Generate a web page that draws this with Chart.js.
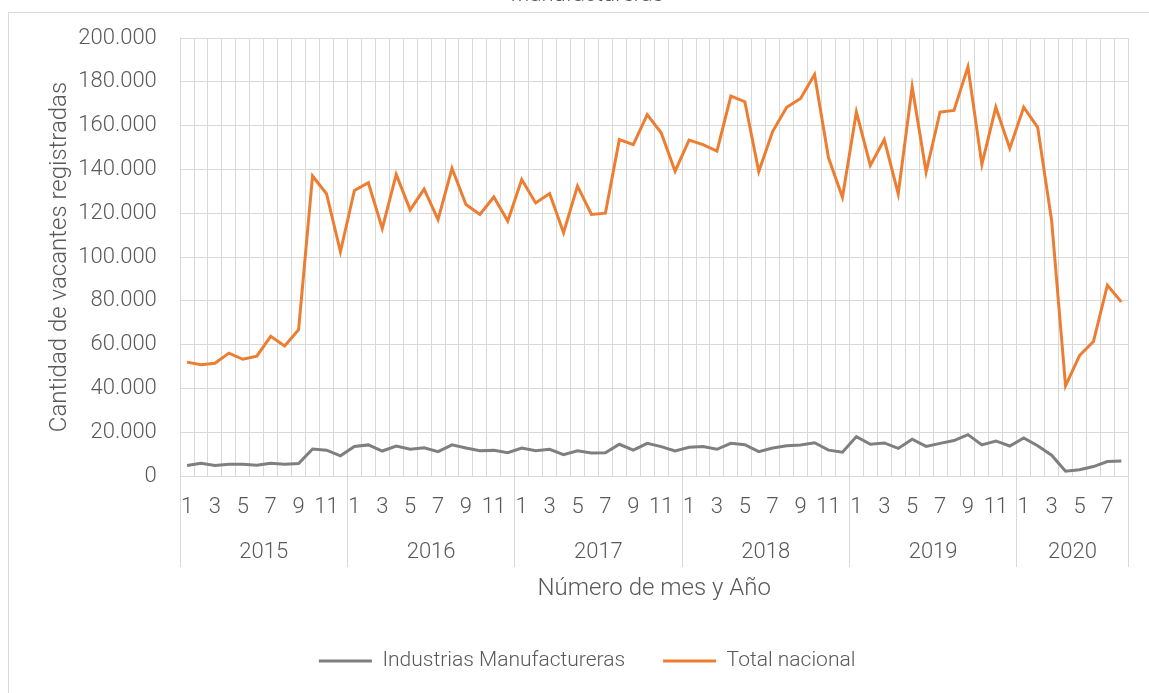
<!DOCTYPE html>
<html lang="es">
<head>
<meta charset="utf-8">
<script src="https://cdn.jsdelivr.net/npm/chart.js@4.4.1/dist/chart.umd.min.js"></script>
<style>
  html, body { margin: 0; padding: 0; background: #fff; overflow: hidden; }
  body { width: 1149px; height: 693px; position: relative; }
  #marco { position: absolute; left: 8px; top: 12px; width: 1300px; height: 900px; border: 1px solid #d9d9d9; }
  #grafico { position: absolute; left: 0; top: -20px; }
</style>
</head>
<body>
<div id="marco"></div>
<canvas id="grafico" width="1149" height="713"></canvas>
<script>
// Datos: vacantes registradas por mes (2015 - ago 2020)
const anios = ["2015", "2016", "2017", "2018", "2019", "2020"];
const mesesPorAnio = [12, 12, 12, 12, 12, 8];

const meses = [
  "1","2","3","4","5","6","7","8","9","10","11","12",
  "1","2","3","4","5","6","7","8","9","10","11","12",
  "1","2","3","4","5","6","7","8","9","10","11","12",
  "1","2","3","4","5","6","7","8","9","10","11","12",
  "1","2","3","4","5","6","7","8","9","10","11","12",
  "1","2","3","4","5","6","7","8"
];

const industrias = [
  4800, 5800, 4800, 5400, 5400, 4900, 5800, 5400, 5700, 12300, 11800, 9200,
  13500, 14200, 11400, 13700, 12200, 12900, 11100, 14200, 12800, 11500, 11700, 10600,
  12800, 11500, 12200, 9700, 11500, 10500, 10600, 14500, 11800, 14900, 13400, 11400,
  13100, 13500, 12200, 14900, 14300, 11100, 12800, 13800, 14200, 15200, 11800, 10900,
  18000, 14500, 15100, 12600, 16800, 13500, 14900, 16200, 18900, 14200, 16000, 13700,
  17400, 13800, 9500, 2200, 2900, 4300, 6600, 6900
];

const totalNacional = [
  52000, 50800, 51500, 56100, 53300, 54700, 63800, 59400, 66800, 137000, 128900, 102400,
  130400, 133900, 113000, 137700, 121500, 131000, 117100, 140500, 124000, 119400, 127400, 116400,
  135400, 124700, 129000, 111100, 132400, 119400, 120000, 153600, 151300, 165000, 156700, 139200,
  153400, 151300, 148300, 173500, 170900, 139000, 157400, 168400, 172400, 183300, 145300, 127300,
  166200, 141800, 153600, 128800, 177700, 138800, 166200, 166900, 186800, 142300, 168400, 149600,
  168400, 159200, 116700, 41200, 55000, 61400, 87100, 79500
];

const ejeYMin = 0;
const ejeYMax = 200000;
const ejeYPaso = 20000;

// limites y centros de cada año sobre el eje de categorias
const limites = [0];
mesesPorAnio.forEach((n) => limites.push(limites[limites.length - 1] + n));
const centros = anios.map((a, i) => (limites[i] + limites[i + 1]) / 2);

const gris = "#d9d9d9";
const texto = "#595959";

function miles(v) {
  return String(v).replace(/\B(?=(\d{3})+(?!\d))/g, ".");
}

Chart.defaults.font.family = "Roboto";
Chart.defaults.font.weight = "300";
Chart.defaults.color = texto;

const ctx = document.getElementById("grafico").getContext("2d");
new Chart(ctx, {
  type: "line",
  data: {
    labels: meses,
    datasets: [
      {
        label: "Industrias Manufactureras",
        data: industrias,
        borderColor: "#7f7f7f",
        backgroundColor: "#7f7f7f",
        borderWidth: 3,
        pointRadius: 0,
        tension: 0,
      },
      {
        label: "Total nacional",
        data: totalNacional,
        borderColor: "#ed7d31",
        backgroundColor: "#ed7d31",
        borderWidth: 3,
        pointRadius: 0,
        tension: 0,
      },
    ],
  },
  options: {
    responsive: false,
    animation: false,
    devicePixelRatio: 1,
    layout: { padding: { left: 46, right: 20.7, top: 0, bottom: 11.5 } },
    plugins: {
      tooltip: { enabled: false },
      title: {
        display: true,
        text: "Manufactureras",
        font: { size: 22, weight: "300" },
        color: texto,
        padding: { top: 2, bottom: 29.6 },
      },
      legend: {
        position: "bottom",
        labels: {
          usePointStyle: true,
          pointStyle: "line",
          pointStyleWidth: 53,
          font: { size: 21, weight: "300" },
          color: texto,
          padding: 38,
        },
      },
    },
    scales: {
      x: {
        type: "category",
        position: "bottom",
        offset: true,
        grid: {
          offset: true,
          color: gris,
          drawTicks: true,
          tickLength: 91,
          tickColor: (c) =>
            c.index === undefined || c.index % 12 === 0 ? gris : "transparent",
        },
        border: { color: gris },
        ticks: {
          autoSkip: false,
          maxRotation: 0,
          minRotation: 0,
          mirror: true,
          padding: -44.2,
          font: { size: 22, weight: "300" },
          color: texto,
          callback: (v, i) => (i % 2 === 0 ? meses[i] : ""),
        },
      },
      x2: {
        type: "linear",
        position: "bottom",
        min: 0,
        max: limites[limites.length - 1],
        afterBuildTicks: (eje) => {
          eje.ticks = limites.concat(centros).sort((a, b) => a - b).map((v) => ({ value: v }));
        },
        grid: {
          drawOnChartArea: false,
          drawTicks: true,
          tickLength: 269.2,
          tickColor: "transparent",
        },
        border: { display: false },
        ticks: {
          autoSkip: false,
          maxRotation: 0,
          minRotation: 0,
          mirror: true,
          padding: -86.6,
          font: { size: 22, weight: "300" },
          color: texto,
          callback: (v) => {
            const k = centros.indexOf(v);
            return k >= 0 ? anios[k] : "";
          },
        },
        title: {
          display: true,
          text: "Número de mes y Año",
          font: { size: 24, weight: "300" },
          color: texto,
          padding: { top: 0, bottom: 9.1 },
        },
      },
      y: {
        min: ejeYMin,
        max: ejeYMax,
        grid: { color: gris, drawTicks: true, tickLength: 23.3, tickColor: "transparent" },
        border: { color: gris },
        ticks: {
          stepSize: ejeYPaso,
          padding: 0,
          font: { size: 22, weight: "300" },
          color: texto,
          callback: (v) => miles(v),
        },
        title: {
          display: true,
          text: "Cantidad de vacantes registradas",
          font: { size: 24, weight: "300" },
          color: texto,
          padding: { top: 0, bottom: 3.5 },
        },
      },
    },
  },
});
</script>
</body>
</html>
